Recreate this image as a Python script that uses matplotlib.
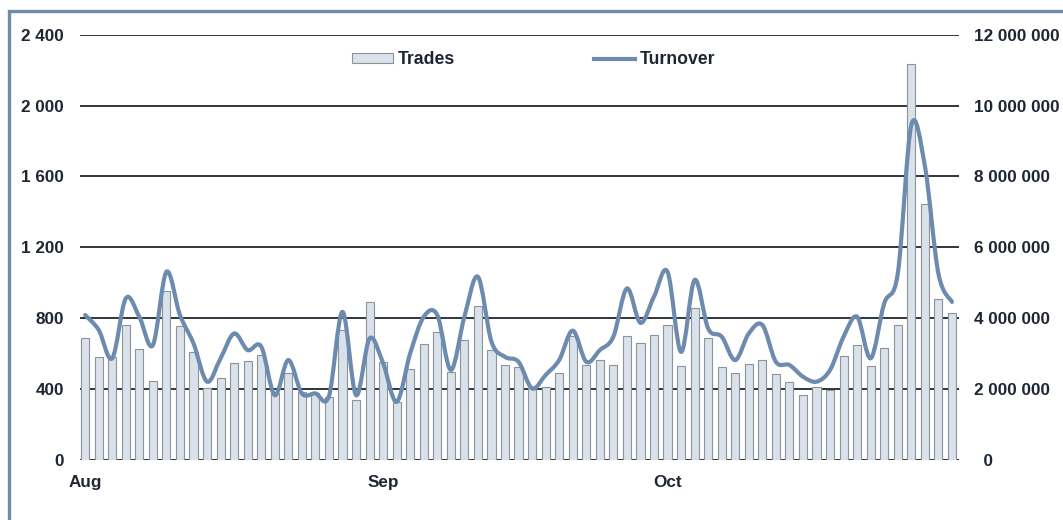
import matplotlib
matplotlib.use("Agg")
import matplotlib.pyplot as plt
from matplotlib.path import Path
from matplotlib.patches import PathPatch, Rectangle, Patch
from matplotlib.lines import Line2D
import numpy as np

plt.rcParams['font.family'] = ['Liberation Sans', 'DejaVu Sans']

# ---------------- data ----------------
trades = [690, 580, 580, 760, 624, 444, 951, 754, 607, 404,
          464, 545, 556, 590, 380, 489, 385, 380, 353, 733,
          338, 889, 551, 330, 511, 652, 720, 494, 675, 868,
          618, 534, 524, 404, 410, 489, 699, 534, 562, 534,
          701, 658, 707, 759, 528, 855, 686, 526, 489, 539,
          562, 483, 438, 365, 414, 395, 585, 647, 528, 630,
          759, 2235, 1442, 906, 827]

turnover = [4.09e6, 3.67e6, 2.87e6, 4.56e6, 4.04e6, 3.24e6, 5.31e6, 4.09e6, 3.29e6, 2.21e6,
            2.87e6, 3.57e6, 3.10e6, 3.20e6, 1.83e6, 2.82e6, 1.88e6, 1.88e6, 1.80e6, 4.18e6,
            1.83e6, 3.43e6, 2.73e6, 1.64e6, 3.01e6, 4.04e6, 4.09e6, 2.54e6, 4.04e6, 5.17e6,
            3.34e6, 2.91e6, 2.77e6, 2.02e6, 2.40e6, 2.82e6, 3.65e6, 2.77e6, 3.10e6, 3.48e6,
            4.84e6, 3.87e6, 4.61e6, 5.31e6, 3.05e6, 5.08e6, 3.71e6, 3.48e6, 2.82e6, 3.57e6,
            3.81e6, 2.77e6, 2.68e6, 2.35e6, 2.21e6, 2.54e6, 3.48e6, 4.04e6, 2.87e6, 4.42e6,
            5.26e6, 9.45e6, 8.30e6, 5.26e6, 4.46e6]

month_labels = ['Aug', 'Sep', 'Oct']
month_starts = [0, 22, 43]

left_ticks = [0, 400, 800, 1200, 1600, 2000, 2400]
left_labels = ['0', '400', '800', '1 200', '1 600', '2 000', '2 400']
right_ticks = [0, 2e6, 4e6, 6e6, 8e6, 10e6, 12e6]
right_labels = ['  0', '2 000 000', '4 000 000', '6 000 000', '8 000 000', '10 000 000', '12 000 000']

# ---------------- style ----------------
TXT = '#1e2633'
LINE = '#6d8bae'
BAR_FILL = '#d9e2ea'
BAR_EDGE = '#8d9399'
GRID = '#1c2530'
FS = 12.3

W, H = 1063, 520
fig = plt.figure(figsize=(W / 100, H / 100), dpi=100)

# outer frame (only top/left visible)
fig.patches.append(Rectangle((8.5 / W, 0 - 0.1), 1.2, 1 - 10.5 / H + 0.1,
                             transform=fig.transFigure, fill=False,
                             edgecolor=LINE, linewidth=2.4, clip_on=False))

ax = fig.add_axes([80 / W, 1 - 460 / H, (959 - 80) / W, (460 - 34.7) / H])
x = np.arange(len(trades))
ax.bar(x, trades, width=0.6, color=BAR_FILL, edgecolor=BAR_EDGE, linewidth=0.8, zorder=2)
ax.set_xlim(-0.38, len(trades) - 0.48)
ax.set_ylim(0, 2400)
ax.set_yticks(left_ticks)
ax.set_yticklabels(left_labels)
for t in left_ticks:
    ax.axhline(t, color=GRID, linewidth=1.3, zorder=1)
for s in ax.spines.values():
    s.set_visible(False)
ax.tick_params(axis='y', length=0, pad=11.5, labelsize=FS, labelcolor=TXT)
ax.tick_params(axis='x', length=0, pad=10.5, labelsize=FS, labelcolor=TXT)
ax.set_xticks(month_starts)
ax.set_xticklabels(month_labels)
for lab in ax.get_xticklabels() + ax.get_yticklabels():
    lab.set_fontweight('bold')

ax2 = ax.twinx()
ax2.set_ylim(0, 12e6)
ax2.set_yticks(right_ticks)
ax2.set_yticklabels(right_labels)
for s in ax2.spines.values():
    s.set_visible(False)
ax2.tick_params(axis='y', length=0, pad=10.8, labelsize=FS, labelcolor=TXT)
for lab in ax2.get_yticklabels():
    lab.set_fontweight('bold')

# smoothed line (Catmull-Rom style bezier through the data points)
px = x.astype(float)
py = np.array(turnover, dtype=float)
verts = [(px[0], py[0])]
codes = [Path.MOVETO]
n = len(px)
for i in range(n - 1):
    p0 = np.array([px[max(i - 1, 0)], py[max(i - 1, 0)]])
    p1 = np.array([px[i], py[i]])
    p2 = np.array([px[i + 1], py[i + 1]])
    p3 = np.array([px[min(i + 2, n - 1)], py[min(i + 2, n - 1)]])
    c1 = p1 + (p2 - p0) / 6.0
    c2 = p2 - (p3 - p1) / 6.0
    verts += [tuple(c1), tuple(c2), tuple(p2)]
    codes += [Path.CURVE4] * 3
ax2.add_patch(PathPatch(Path(verts, codes), fill=False, edgecolor=LINE,
                        linewidth=3.0, capstyle='round', joinstyle='round', zorder=3))

handles = [Patch(facecolor=BAR_FILL, edgecolor=BAR_EDGE, linewidth=0.8),
           Line2D([0], [0], color=LINE, linewidth=3.0)]
LFS = 12.7
leg = ax2.legend(handles, ['Trades', 'Turnover'], ncol=2, frameon=False,
                 loc='center left', bbox_to_anchor=(352 / W, 1 - 60 / H),
                 bbox_transform=fig.transFigure, borderpad=0, borderaxespad=0,
                 handlelength=41 / (LFS * 100 / 72), handletextpad=0.28,
                 columnspacing=139 / (LFS * 100 / 72),
                 handleheight=0.5, prop={'size': LFS, 'weight': 'bold'})
for t in leg.get_texts():
    t.set_color(TXT)

fig.savefig('out.png', dpi=100)
